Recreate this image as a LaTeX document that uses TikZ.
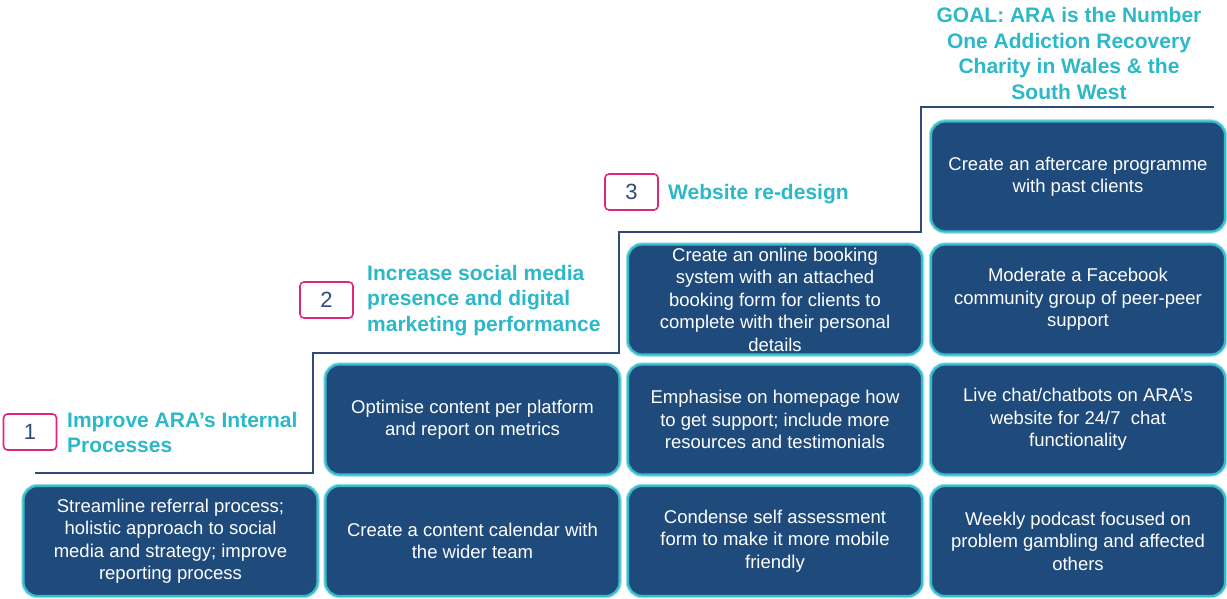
\documentclass[tikz,border=0pt]{standalone}
\usepackage{fontspec}
\setmainfont{Liberation Sans}
\definecolor{boxfill}{HTML}{1F4A7C}
\definecolor{boxedge}{HTML}{35BCCB}
\definecolor{boxglow}{HTML}{A8E2E9}
\definecolor{stepline}{HTML}{2F4B7C}
\definecolor{heading}{HTML}{2BB8C8}
\definecolor{badge}{HTML}{E0267A}
\begin{document}
\begin{tikzpicture}[x=1pt,y=-1pt,
  task/.style={draw=boxedge, line width=2.2pt, fill=boxfill, rounded corners=14pt,
    minimum width=294pt, minimum height=110pt, inner sep=0pt,
    text=white, align=center,
    font=\fontsize{18.5}{22.5}\selectfont,
    preaction={draw=boxglow, line width=4.5pt, rounded corners=14pt}},
  numbox/.style={draw=badge, line width=1.6pt, fill=white, rounded corners=4pt,
    minimum width=53pt, minimum height=36pt, inner sep=0pt,
    text=stepline, font=\fontsize{22}{24}\selectfont},
  stagetitle/.style={text=heading, align=left, anchor=west, inner sep=0pt,
    font=\bfseries\fontsize{21}{25.5}\selectfont},
  stairs/.style={draw=stepline, line width=2.4pt},
  stairshadow/.style={draw=black!25, line width=2.4pt}
]
\useasboundingbox (0,0) rectangle (1227,599);

% staircase corner points
\coordinate (s0) at (35,473);
\coordinate (s1) at (313,473);
\coordinate (s2) at (313,353);
\coordinate (s3) at (619,353);
\coordinate (s4) at (619,232);
\coordinate (s5) at (921,232);
\coordinate (s6) at (921,107);
\coordinate (s7) at (1214,107);

\draw[stairshadow, shift={(1.5,1.5)}] (s0) -- (s1) -- (s2) -- (s3) -- (s4) -- (s5) -- (s6) -- (s7);
\draw[stairs] (s0) -- (s1) -- (s2) -- (s3) -- (s4) -- (s5) -- (s6) -- (s7);

% task boxes, column by column
\node[task] (a1) at (170.5,541) {Streamline referral process;\\holistic approach to social\\media and strategy; improve\\reporting process};

\node[task] (b1) at (472.5,541) {Create a content calendar with\\the wider team};
\node[task] (b2) at (472.5,419.5) {Optimise content per platform\\and report on metrics};

\node[task] (c1) at (775,541) {Condense self assessment\\form to make it more mobile\\friendly};
\node[task] (c2) at (775,419.5) {Emphasise on homepage how\\to get support; include more\\resources and testimonials};
\node[task] (c3) at (775,299.5) {Create an online booking\\system with an attached\\booking form for clients to\\complete with their personal\\details};

\node[task] (d1) at (1078,541) {Weekly podcast focused on\\problem gambling and affected\\others};
\node[task] (d2) at (1078,419.5) {Live chat/chatbots on ARA's\\website for 24/7~ chat\\functionality};
\node[task] (d3) at (1078,299.5) {Moderate a Facebook\\community group of peer-peer\\support};
\node[task] (d4) at (1078,176.5) {Create an aftercare programme\\with past clients};

% stage badges and titles
\node[numbox] (n1) at (30,432) {1};
\node[stagetitle] (t1) at (67,432.5) {Improve ARA's Internal\\Processes};

\node[numbox] (n2) at (326.5,300) {2};
\node[stagetitle] (t2) at (367,300.5) {Increase social media\\presence and digital\\marketing performance};

\node[numbox] (n3) at (631.5,192) {3};
\node[stagetitle] (t3) at (668,194.5) {Website re-design};

\node[text=heading, align=center, inner sep=0pt,
  font=\bfseries\fontsize{21}{25.5}\selectfont] (goal) at (1069,53.5)
  {GOAL: ARA is the Number\\One Addiction Recovery\\Charity in Wales \& the\\South West};
\end{tikzpicture}
\end{document}
